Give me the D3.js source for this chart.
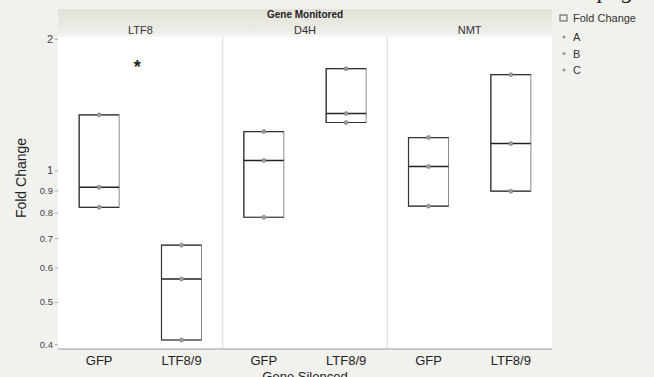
<!DOCTYPE html>
<html>
<head>
<meta charset="utf-8">
<script src="https://cdn.jsdelivr.net/npm/d3@7"></script>
<style>
  html, body { margin: 0; padding: 0; background: #f1f1ed; }
  svg { display: block; font-family: "Liberation Sans", Arial, sans-serif; }
</style>
</head>
<body>
<svg id="chart" width="654" height="377"></svg>
<script>
// Panels (gene monitored) and groups (gene silenced)
const panels = ["LTF8", "D4H", "NMT"];
const groups = ["GFP", "LTF8/9"];
const replicates = ["A", "B", "C"];

// Fold change per replicate, cells ordered LTF8-GFP, LTF8-LTF8/9, D4H-GFP, D4H-LTF8/9, NMT-GFP, NMT-LTF8/9
const seriesA = [1.34, 0.674, 1.227, 1.709, 1.189, 1.656];
const seriesB = [0.915, 0.564, 1.054, 1.349, 1.021, 1.152];
const seriesC = [0.823, 0.409, 0.781, 1.287, 0.828, 0.896];

const yTicks = [2, 1, 0.9, 0.8, 0.7, 0.6, 0.5, 0.4];
const majorTicks = [2, 1];

const svg = d3.select("#chart");
const plot = { left: 58, right: 552, top: 37, bottom: 349 };

const y = d3.scaleLog().domain([0.39, 2.02]).range([plot.bottom, plot.top]);
const xPanel = d3.scaleBand().domain(panels).range([plot.left, plot.right]);
const xGroup = d3.scalePoint().domain(groups).range([0, xPanel.bandwidth()]).padding(0.5);
const boxW = 40;

// page fragment at the top right
svg.append("text").attr("x", 598).attr("y", -2)
  .attr("font-family", "Liberation Serif, serif").attr("font-style", "italic")
  .attr("font-size", 24).attr("fill", "#222").text("page");

// header band
const grad = svg.append("defs").append("linearGradient").attr("id", "hdr")
  .attr("x1", 0).attr("y1", 0).attr("x2", 0).attr("y2", 1);
grad.append("stop").attr("offset", "0%").attr("stop-color", "#e2e2da");
grad.append("stop").attr("offset", "70%").attr("stop-color", "#ebebe5");
grad.append("stop").attr("offset", "100%").attr("stop-color", "#f6f6f3");
svg.append("rect").attr("x", plot.left).attr("y", 9)
  .attr("width", plot.right - plot.left).attr("height", plot.top - 9)
  .attr("fill", "url(#hdr)");

// plot area
svg.append("rect").attr("x", plot.left).attr("y", plot.top)
  .attr("width", plot.right - plot.left).attr("height", plot.bottom - plot.top)
  .attr("fill", "#ffffff");

// header texts
svg.append("text").attr("x", (plot.left + plot.right) / 2).attr("y", 18)
  .attr("text-anchor", "middle").attr("font-size", 10).attr("font-weight", "bold")
  .attr("fill", "#222").text("Gene Monitored");
svg.selectAll(".plabel").data(panels).join("text")
  .attr("class", "plabel")
  .attr("x", d => xPanel(d) + xPanel.bandwidth() / 2)
  .attr("y", 34).attr("text-anchor", "middle").attr("font-size", 11)
  .attr("fill", "#333").text(d => d);

// panel separators
svg.selectAll(".sep").data(panels.slice(1)).join("line")
  .attr("class", "sep")
  .attr("x1", d => xPanel(d)).attr("x2", d => xPanel(d))
  .attr("y1", plot.top).attr("y2", plot.bottom)
  .attr("stroke", "#e6e6e6").attr("stroke-width", 1.5);

// y axis
const yAxis = d3.axisLeft(y).tickValues(yTicks).tickSize(3).tickFormat(d => String(d));
const gy = svg.append("g").attr("transform", `translate(${plot.left},0)`).call(yAxis);
gy.select(".domain").remove();
gy.selectAll(".tick line").attr("stroke", "#aaa");
gy.selectAll(".tick text")
  .attr("fill", "#444")
  .attr("font-size", d => majorTicks.includes(d) ? 11 : 9.5)
  .attr("x", -5);

svg.append("text")
  .attr("transform", `translate(26,${(plot.top + plot.bottom) / 2 - 15}) rotate(-90)`)
  .attr("text-anchor", "middle").attr("font-size", 14).attr("fill", "#222")
  .text("Fold Change");

// bottom axis line
svg.append("line").attr("x1", plot.left).attr("x2", plot.right)
  .attr("y1", plot.bottom).attr("y2", plot.bottom)
  .attr("stroke", "#999").attr("stroke-width", 1);

// cells
const cells = [];
panels.forEach((p, i) => groups.forEach((g, j) => {
  const k = i * groups.length + j;
  cells.push({ panel: p, group: g, values: [seriesA[k], seriesB[k], seriesC[k]] });
}));

// quantile at position (n+1)p on sorted values
function quant(vals, p) {
  const s = vals.slice().sort(d3.ascending);
  const n = s.length;
  const pos = (n + 1) * p;
  if (pos <= 1) return s[0];
  if (pos >= n) return s[n - 1];
  const lo = Math.floor(pos), f = pos - lo;
  return s[lo - 1] + f * (s[lo] - s[lo - 1]);
}

const cx = d => xPanel(d.panel) + xGroup(d.group);

const gCells = svg.selectAll(".cell").data(cells).join("g").attr("class", "cell");
gCells.each(function (d) {
  const g = d3.select(this);
  const q1 = quant(d.values, 0.25), q3 = quant(d.values, 0.75), med = quant(d.values, 0.5);
  const x0 = cx(d) - boxW / 2, x1 = cx(d) + boxW / 2;
  g.append("rect").attr("x", x0).attr("y", y(q3))
    .attr("width", boxW).attr("height", y(q1) - y(q3))
    .attr("fill", "none").attr("stroke", "#8a8a8a").attr("stroke-width", 1);
  g.append("path")
    .attr("d", `M${x1},${y(q3)}H${x0}V${y(q1)}H${x1}`)
    .attr("fill", "none").attr("stroke", "#333").attr("stroke-width", 1.2);
  g.append("line").attr("x1", x0).attr("x2", x1)
    .attr("y1", y(med)).attr("y2", y(med))
    .attr("stroke", "#222").attr("stroke-width", 1.5);
  g.selectAll("circle").data(d.values).join("circle")
    .attr("cx", cx(d)).attr("cy", v => y(v)).attr("r", 2)
    .attr("fill", "#a0a0a0").attr("stroke", "#707070").attr("stroke-width", 0.6);
});

// significance marker
svg.append("text")
  .attr("x", xPanel("LTF8") + xGroup("GFP") + 38).attr("y", 73)
  .attr("text-anchor", "middle").attr("font-size", 18).attr("font-weight", "bold")
  .attr("fill", "#222").text("*");

// x labels
svg.selectAll(".xlab").data(cells).join("text")
  .attr("class", "xlab")
  .attr("x", d => cx(d)).attr("y", 365)
  .attr("text-anchor", "middle").attr("font-size", 13).attr("fill", "#222")
  .text(d => d.group);
svg.append("text").attr("x", (plot.left + plot.right) / 2).attr("y", 381)
  .attr("text-anchor", "middle").attr("font-size", 13).attr("fill", "#222")
  .text("Gene Silenced");

// legend
const lg = svg.append("g").attr("transform", "translate(560,0)");
lg.append("rect").attr("x", 0).attr("y", 15).attr("width", 7).attr("height", 6)
  .attr("fill", "none").attr("stroke", "#555").attr("stroke-width", 1);
lg.append("text").attr("x", 13).attr("y", 22).attr("font-size", 11)
  .attr("fill", "#333").text("Fold Change");
lg.selectAll(".li").data(replicates).join("g").attr("class", "li")
  .attr("transform", (d, i) => `translate(0,${37 + i * 16.5})`)
  .each(function (d) {
    const g = d3.select(this);
    g.append("circle").attr("cx", 4).attr("cy", 0).attr("r", 1.6).attr("fill", "#999");
    g.append("text").attr("x", 13).attr("y", 4).attr("font-size", 11)
      .attr("fill", "#333").text(d);
  });
</script>
</body>
</html>
